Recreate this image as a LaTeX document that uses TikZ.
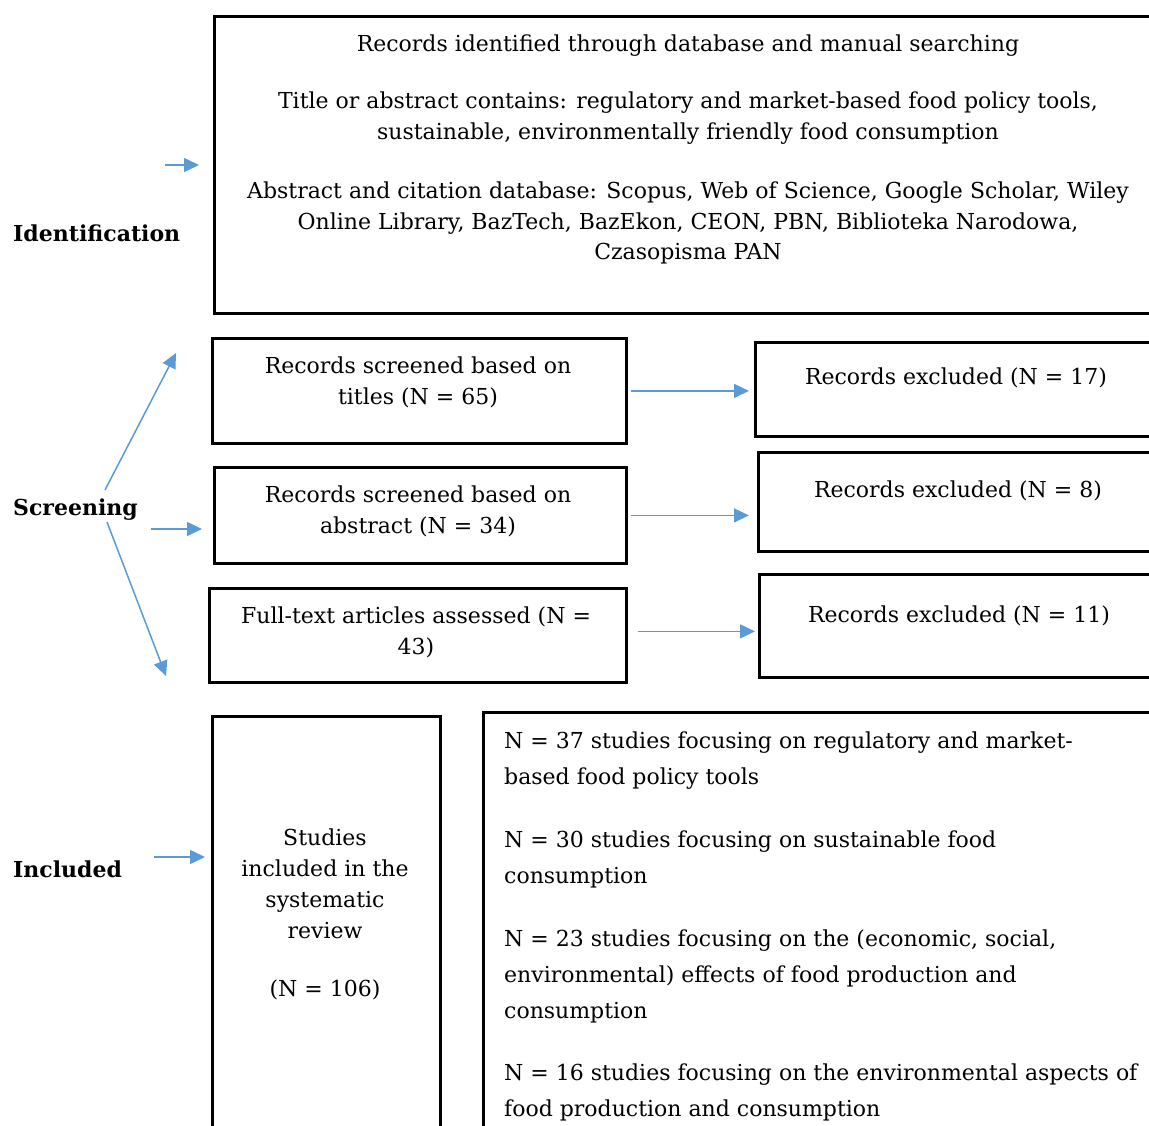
\documentclass[tikz,border=0pt]{standalone}
\usepackage{fontspec}
\setmainfont{DejaVu Serif}
\usetikzlibrary{arrows.meta}
\definecolor{arr}{HTML}{5B9BD5}
\begin{document}
\begin{tikzpicture}[x=1pt,y=-1pt,
  box/.style={draw=black, line width=2.8pt, inner sep=0pt, anchor=north west},
  conn/.style={draw=arr, line width=1.5pt, -{Triangle[length=15pt,width=14pt]}},
  txt/.style={font=\fontsize{22}{31}\selectfont, align=center, inner sep=0pt, anchor=base},
  ltxt/.style={font=\fontsize{22}{36}\selectfont, align=left, inner sep=0pt, anchor=base west},
  lab/.style={font=\fontsize{22}{26}\selectfont\bfseries, anchor=base west, inner sep=0pt}]
\useasboundingbox (0,0) rectangle (1149,1126);
\clip (0,0) rectangle (1149,1126);
% boxes
\node[box, minimum width=950pt, minimum height=297pt] (ident) at (213,15) {};
\node[box, minimum width=414pt, minimum height=105pt] (s1) at (211,337) {};
\node[box, minimum width=412pt, minimum height=96pt] (s2) at (213,466) {};
\node[box, minimum width=417pt, minimum height=94pt] (s3) at (208,587) {};
\node[box, minimum width=409pt, minimum height=94pt] (e1) at (754,341) {};
\node[box, minimum width=406pt, minimum height=99pt] (e2) at (757,451) {};
\node[box, minimum width=405pt, minimum height=103pt] (e3) at (758,573) {};
\node[box, minimum width=228pt, minimum height=440pt] (inc) at (211,715) {};
\node[box, minimum width=681pt, minimum height=440pt] (res) at (482,711) {};
% texts (multi-line nodes: base = baseline of last line)
\node[txt] (t0) at (688,52) {Records identified through database and manual searching};
\node[txt] (t1) at (688,140) {Title or abstract contains: regulatory and market-based food policy tools,\\sustainable, environmentally friendly food consumption};
\node[txt] (t2) at (688,260) {Abstract and citation database: Scopus, Web of Science, Google Scholar, Wiley\\Online Library, BazTech, BazEkon, CEON, PBN, Biblioteka Narodowa,\\Czasopisma PAN};
\node[txt] (ts1) at (418,404) {Records screened based on\\titles (N = 65)};
\node[txt] (ts2) at (418,533) {Records screened based on\\abstract (N = 34)};
\node[txt] (ts3) at (416,654) {Full-text articles assessed (N =\\43)};
\node[txt] (te1) at (956,384) {Records excluded (N = 17)};
\node[txt] (te2) at (958,497) {Records excluded (N = 8)};
\node[txt] (te3) at (959,622) {Records excluded (N = 11)};
\node[txt] (tinc) at (325,938) {Studies\\included in the\\systematic\\review};
\node[txt] (tn) at (325,996) {(N = 106)};
\node[ltxt] (r1) at (504,784) {N = 37 studies focusing on regulatory and market-\\based food policy tools};
\node[ltxt] (r2) at (504,883) {N = 30 studies focusing on sustainable food\\consumption};
\node[ltxt] (r3) at (504,1018) {N = 23 studies focusing on the (economic, social,\\environmental) effects of food production and\\consumption};
\node[ltxt] (r4) at (504,1116) {N = 16 studies focusing on the environmental aspects of\\food production and consumption};
% labels
\node[lab] (lid) at (13,242) {Identification};
\node[lab] (lsc) at (13,515) {Screening};
\node[lab] (lin) at (13,877) {Included};
% free ends
\coordinate (a0) at (165,165);
\coordinate (b0) at (199,165);
\coordinate (a1) at (105,490);
\coordinate (b1) at (176,353);
\coordinate (a2) at (151,529);
\coordinate (b2) at (202,529);
\coordinate (a3) at (107,522);
\coordinate (b3) at (166,676);
\coordinate (a4) at (154,857);
\coordinate (b4) at (205,857);
% connectors
\draw[conn] (a0) -- (b0);
\draw[conn] (a1) -- (b1);
\draw[conn] (a2) -- (b2);
\draw[conn] (a3) -- (b3);
\draw[conn] (a4) -- (b4);
\draw[conn, shorten <=3pt, shorten >=5pt] (s1.east) -- (s1.east -| e1.west);
\draw[conn, shorten <=3pt, shorten >=8pt] (s2.east) -- (s2.east -| e2.west);
\draw[conn, shorten <=10pt, shorten >=3pt] ([yshift=4pt]s3.east) -- ([yshift=4pt]s3.east -| e3.west);
\end{tikzpicture}
\end{document}
